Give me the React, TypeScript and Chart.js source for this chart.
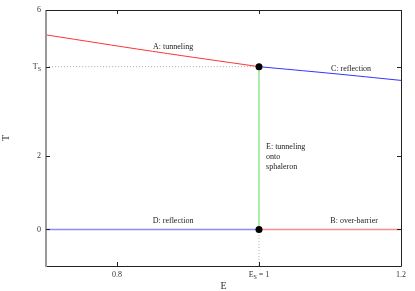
import React, { useEffect, useRef } from 'react';
import { Chart, registerables } from 'chart.js';

Chart.register(...registerables);

// ---- data ----
const E_MIN = 0.7;
const E_MAX = 1.2;
const T_MIN = -1;
const T_MAX = 6;
const E_S = 1.0;
const T_S = 4.45;

const xTickValues = [0.8, 1.0, 1.2];
const xTickLabels = ['0.8', 'E_S = 1', '1.2'];
const yTickValues = [0, 2, T_S, 6];
const yTickLabels = ['0', '2', 'T_S', '6'];

// A: tunneling (red)
const tunnelingE = [0.7, 0.85, 1.0];
const tunnelingT = [5.32, 4.87, 4.45];
// C: reflection (blue)
const reflectionCE = [1.0, 1.1, 1.2];
const reflectionCT = [4.45, 4.27, 4.075];
// D: reflection (light blue)
const reflectionDE = [0.7, 1.0];
const reflectionDT = [0, 0];
// B: over-barrier (light red)
const overBarrierE = [1.0, 1.2];
const overBarrierT = [0, 0];
// E: tunneling onto sphaleron (green)
const sphaleronE = [E_S, E_S];
const sphaleronT = [0, T_S];
// guides (dotted gray)
const guideHE = [0.7, E_S];
const guideHT = [T_S, T_S];
const guideVE = [E_S, E_S];
const guideVT = [-1, 0];
// points
const dotE = [E_S, E_S];
const dotT = [T_S, 0];

// annotations
const noteTexts = [['A: tunneling'], ['C: reflection'], ['D: reflection'], ['B: over-barrier'], ['E: tunneling', 'onto', 'sphaleron']];
const noteE = [0.879, 1.1296, 0.879, 1.134, 1.0099];
const noteT = [4.98, 4.39, 0.22, 0.22, 2.26];
const noteAlign = ['center', 'center', 'center', 'center', 'left'];

const pts = (xs: number[], ys: number[]) => xs.map((x, i) => ({ x, y: ys[i] }));

const FONT = '"Liberation Serif", "Times New Roman", serif';

function drawSubLabel(ctx: CanvasRenderingContext2D, label: string, x: number, y: number, align: 'right' | 'center') {
  const i = label.indexOf('_');
  const main = label.slice(0, i);
  const sub = label.slice(i + 1, i + 2);
  const rest = label.slice(i + 2);
  ctx.font = `8px ${FONT}`;
  const wMain = ctx.measureText(main).width;
  const wRest = ctx.measureText(rest).width;
  ctx.font = `6px ${FONT}`;
  const wSub = ctx.measureText(sub).width;
  const total = wMain + wSub + wRest;
  const x0 = align === 'right' ? x - total : x - total / 2;
  ctx.textAlign = 'left';
  ctx.textBaseline = 'middle';
  ctx.font = `8px ${FONT}`;
  ctx.fillText(main, x0, y);
  ctx.font = `6px ${FONT}`;
  ctx.fillText(sub, x0 + wMain, y + 2.5);
  ctx.font = `8px ${FONT}`;
  ctx.fillText(rest, x0 + wMain + wSub, y);
}

const framePlugin = {
  id: 'frame',
  afterDraw(chart: any) {
    const { ctx, chartArea: a, scales } = chart;
    const x = scales.x;
    const y = scales.y;
    ctx.save();
    // frame
    ctx.strokeStyle = '#222';
    ctx.lineWidth = 1;
    ctx.beginPath();
    ctx.moveTo(a.left, a.top + 0.5);
    ctx.lineTo(a.right + 0.5, a.top + 0.5);
    ctx.lineTo(a.right + 0.5, a.bottom + 0.5);
    ctx.lineTo(a.left, a.bottom + 0.5);
    ctx.stroke();
    ctx.strokeStyle = '#999';
    ctx.lineWidth = 2;
    ctx.beginPath();
    ctx.moveTo(a.left, a.top);
    ctx.lineTo(a.left, a.bottom + 1);
    ctx.stroke();
    // inward ticks
    ctx.strokeStyle = '#222';
    ctx.lineWidth = 1;
    const tl = 4;
    ctx.beginPath();
    xTickValues.forEach((v) => {
      const px = Math.round(x.getPixelForValue(v)) + 0.5;
      ctx.moveTo(px, a.bottom);
      ctx.lineTo(px, a.bottom - tl);
      ctx.moveTo(px, a.top);
      ctx.lineTo(px, a.top + tl);
    });
    yTickValues.forEach((v) => {
      const py = Math.round(y.getPixelForValue(v)) + 0.5;
      ctx.moveTo(a.left, py);
      ctx.lineTo(a.left + tl, py);
      ctx.moveTo(a.right, py);
      ctx.lineTo(a.right - tl, py);
    });
    ctx.stroke();
    // subscript tick labels
    ctx.fillStyle = '#333';
    xTickLabels.forEach((lab, i) => {
      if (lab.includes('_')) drawSubLabel(ctx, lab, x.getPixelForValue(xTickValues[i]), a.bottom + 8.5, 'center');
    });
    yTickLabels.forEach((lab, i) => {
      if (lab.includes('_')) drawSubLabel(ctx, lab, a.left - 5, y.getPixelForValue(yTickValues[i]), 'right');
    });
    // annotations
    ctx.fillStyle = '#222';
    ctx.font = `8px ${FONT}`;
    ctx.textBaseline = 'middle';
    noteTexts.forEach((lines, i) => {
      ctx.textAlign = noteAlign[i] as CanvasTextAlign;
      const px = x.getPixelForValue(noteE[i]);
      const py = y.getPixelForValue(noteT[i]);
      lines.forEach((line, j) => ctx.fillText(line, px, py + j * 10));
    });
    ctx.restore();
  },
};

export default function App() {
  const ref = useRef<HTMLCanvasElement>(null);
  useEffect(() => {
    if (!ref.current) return;
    const line = (data: any, color: string, extra: any = {}) => ({
      data,
      showLine: true,
      borderColor: color,
      backgroundColor: color,
      borderWidth: 1,
      pointRadius: 0,
      tension: 0.4,
      ...extra,
    });
    const chart = new Chart(ref.current, {
      type: 'scatter',
      data: {
        datasets: [
          line(pts(dotE, dotT), '#000', { showLine: false, pointRadius: 3.5, pointBackgroundColor: '#000', pointBorderWidth: 0 }),
          line(pts(tunnelingE, tunnelingT), '#ff3333'),
          line(pts(reflectionCE, reflectionCT), '#3333ff'),
          line(pts(reflectionDE, reflectionDT), '#8c8cff', { borderWidth: 1.5 }),
          line(pts(overBarrierE, overBarrierT), '#ff8c8c', { borderWidth: 1.5 }),
          line(pts(sphaleronE, sphaleronT), '#55dd55'),
          line(pts(guideHE, guideHT), '#aaaaaa', { borderDash: [1, 2] }),
          line(pts(guideVE, guideVT), '#aaaaaa', { borderDash: [1, 2] }),
        ],
      },
      options: {
        animation: false,
        responsive: false,
        maintainAspectRatio: false,
        events: [],
        layout: { padding: { top: 10, right: 14, left: 0, bottom: 0 } },
        plugins: { legend: { display: false }, tooltip: { enabled: false } },
        scales: {
          x: {
            type: 'linear',
            min: E_MIN,
            max: E_MAX,
            grid: { display: false, drawTicks: false, tickLength: 0 },
            border: { display: false },
            afterBuildTicks: (s: any) => { s.ticks = xTickValues.map((v) => ({ value: v })); },
            afterFit: (s: any) => { s.height = 25; },
            ticks: {
              autoSkip: false,
              maxRotation: 0,
              padding: 4,
              color: '#333',
              font: { family: FONT, size: 8 },
              callback: (_v: any, i: number) => (xTickLabels[i].includes('_') ? '' : xTickLabels[i]),
            },
            title: { display: true, text: 'E', color: '#333', font: { family: FONT, size: 10 }, padding: { top: 0, bottom: -1 } },
          },
          y: {
            type: 'linear',
            min: T_MIN,
            max: T_MAX,
            grid: { display: false, drawTicks: false, tickLength: 0 },
            border: { display: false },
            afterBuildTicks: (s: any) => { s.ticks = yTickValues.map((v) => ({ value: v })); },
            afterFit: (s: any) => { s.width = 46; },
            ticks: {
              autoSkip: false,
              padding: 5,
              color: '#333',
              font: { family: FONT, size: 8 },
              callback: (_v: any, i: number) => (yTickLabels[i].includes('_') ? '' : yTickLabels[i]),
            },
            title: { display: true, text: 'T', color: '#333', font: { family: FONT, size: 10 }, padding: 0 },
          },
        },
      } as any,
      plugins: [framePlugin],
    });
    return () => chart.destroy();
  }, []);
  return (
    <div style={{ position: 'fixed', left: 0, top: 0, width: 415, height: 291, background: '#fff' }}>
      <canvas ref={ref} width={415} height={291} style={{ width: 415, height: 291 }} />
    </div>
  );
}
